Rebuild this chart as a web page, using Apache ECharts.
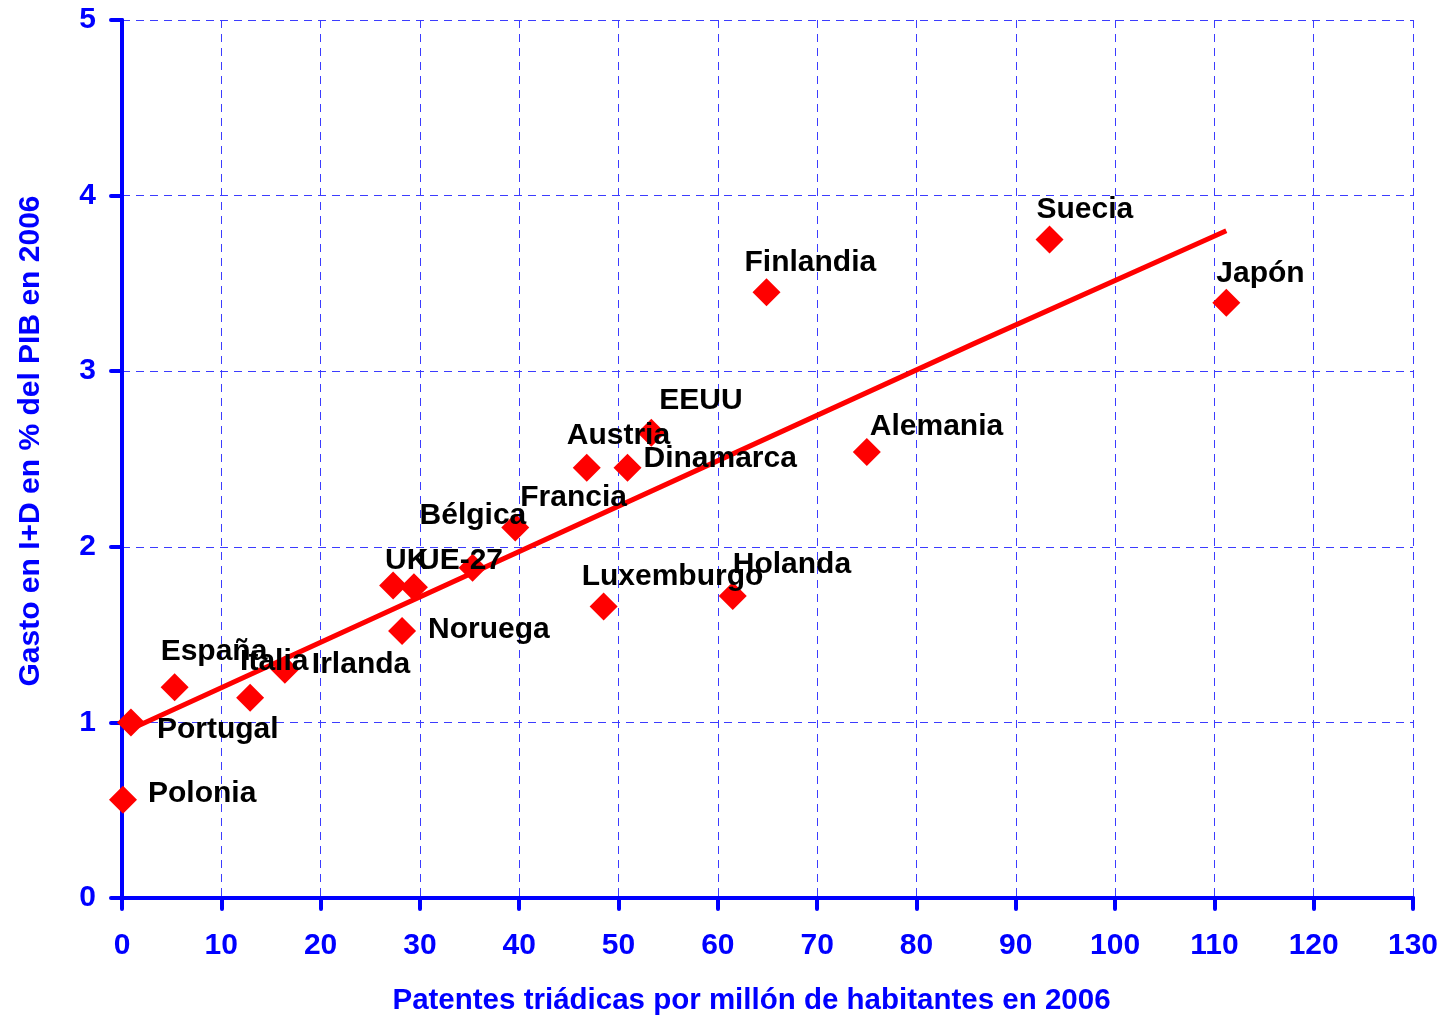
<!DOCTYPE html>
<html>
<head>
<meta charset="utf-8">
<script src="https://cdn.jsdelivr.net/npm/echarts@6/dist/echarts.min.js"></script>
<style>html,body{margin:0;padding:0;background:#fff}#c{width:1445px;height:1016px}</style>
</head>
<body>
<div id="c"></div>
<script>
// Country names
var countries = ['Polonia','Portugal','España','Italia','Irlanda','UK','UE-27','Noruega','Bélgica','Francia','Austria','Dinamarca','EEUU','Luxemburgo','Holanda','Finlandia','Alemania','Suecia','Japón'];
// Triadic patents per million inhabitants (2006)
var patents = [0.1, 0.9, 5.3, 12.9, 16.4, 27.3, 29.4, 28.2, 35.3, 39.6, 46.8, 50.9, 53.3, 48.5, 61.5, 64.9, 75.0, 93.4, 111.2];
// R&D spending % GDP (2006)
var rnd = [0.56, 1.00, 1.20, 1.14, 1.30, 1.78, 1.77, 1.52, 1.88, 2.11, 2.45, 2.45, 2.65, 1.66, 1.72, 3.45, 2.54, 3.75, 3.39];
// Trend line points
var trendX = [0.8, 85.9, 111.2];
var trendY = [0.96, 3.16, 3.80];
var xTicks = [0,10,20,30,40,50,60,70,80,90,100,110,120,130];
var yTicks = [0,1,2,3,4,5];

// label offsets (style only)
var labelOffsets = [[25,-6],[26,7],[-14,-36],[-10,-36],[27,-5],[-8,-25],[4,-26],[26,-1],[-53,-52],[5,-30],[-20,-32],[16,-9],[8,-32],[-22,-30],[0,-31],[-22,-29],[3,-25],[-13,-30],[-10,-29]];

var blue = '#0000ff';
var gridBlue = '#3c3cff';
var scatterData = countries.map(function(n,i){
  return {name:n, value:[patents[i], rnd[i]], label:{offset:labelOffsets[i]}};
});
var trendData = trendX.map(function(x,i){return [x, trendY[i]];});

var chart = echarts.init(document.getElementById('c'));
chart.setOption({
  animation:false,
  backgroundColor:'#fff',
  grid:{left:122,right:32,top:20,bottom:118,outerBoundsMode:'none',containLabel:false},
  xAxis:[{
    type:'value', min:xTicks[0], max:xTicks[xTicks.length-1], interval:10,
    name:'Patentes triádicas por millón de habitantes en 2006',
    nameLocation:'middle', nameGap:88,
    nameTextStyle:{color:blue,fontFamily:'Liberation Sans',fontWeight:'bold',fontSize:29.5,padding:[0,32,0,0]},
    axisLine:{show:true,onZero:false,lineStyle:{color:blue,width:4}},
    axisTick:{show:true,length:11,lineStyle:{color:blue,width:4,cap:'round'}},
    axisLabel:{color:blue,fontFamily:'Liberation Sans',fontWeight:'bold',fontSize:30,margin:33},
    splitLine:{show:true,lineStyle:{color:gridBlue,width:1,type:[8,6]}}
  },{
    type:'value', position:'top', min:0, max:130, interval:10,
    axisLine:{show:true,lineStyle:{color:blue,width:4,type:[7,9]}},
    axisTick:{show:false},axisLabel:{show:false},splitLine:{show:false}
  }],
  yAxis:[{
    type:'value', min:yTicks[0], max:yTicks[yTicks.length-1], interval:1,
    name:'Gasto en I+D en % del PIB en 2006',
    nameLocation:'middle', nameGap:76,
    nameTextStyle:{color:blue,fontFamily:'Liberation Sans',fontWeight:'bold',fontSize:30,padding:[0,0,0,36]},
    axisLine:{show:true,onZero:false,lineStyle:{color:blue,width:4}},
    axisTick:{show:true,length:11,lineStyle:{color:blue,width:4,cap:'round'}},
    axisLabel:{color:blue,fontFamily:'Liberation Sans',fontWeight:'bold',fontSize:30,margin:26},
    splitLine:{show:true,lineStyle:{color:gridBlue,width:1,type:[8,6]}}
  },{
    type:'value', position:'right', min:0, max:5, interval:1,
    axisLine:{show:true,lineStyle:{color:blue,width:4,type:[7,9]}},
    axisTick:{show:false},axisLabel:{show:false},splitLine:{show:false}
  }],
  series:[{
    type:'line', data:trendData, symbol:'none', z:2,
    lineStyle:{color:'#ff0000',width:5}
  },{
    type:'scatter', data:scatterData, symbol:'diamond', symbolSize:28, z:3,
    itemStyle:{color:'#ff0000',opacity:1},
    emphasis:{disabled:true},
    label:{show:true, position:'inside', align:'left', verticalAlign:'middle',
      formatter:'{b}', color:'#000000', textBorderWidth:0, fontFamily:'Liberation Sans', fontWeight:'bold', fontSize:30}
  }]
});
</script>
</body>
</html>
